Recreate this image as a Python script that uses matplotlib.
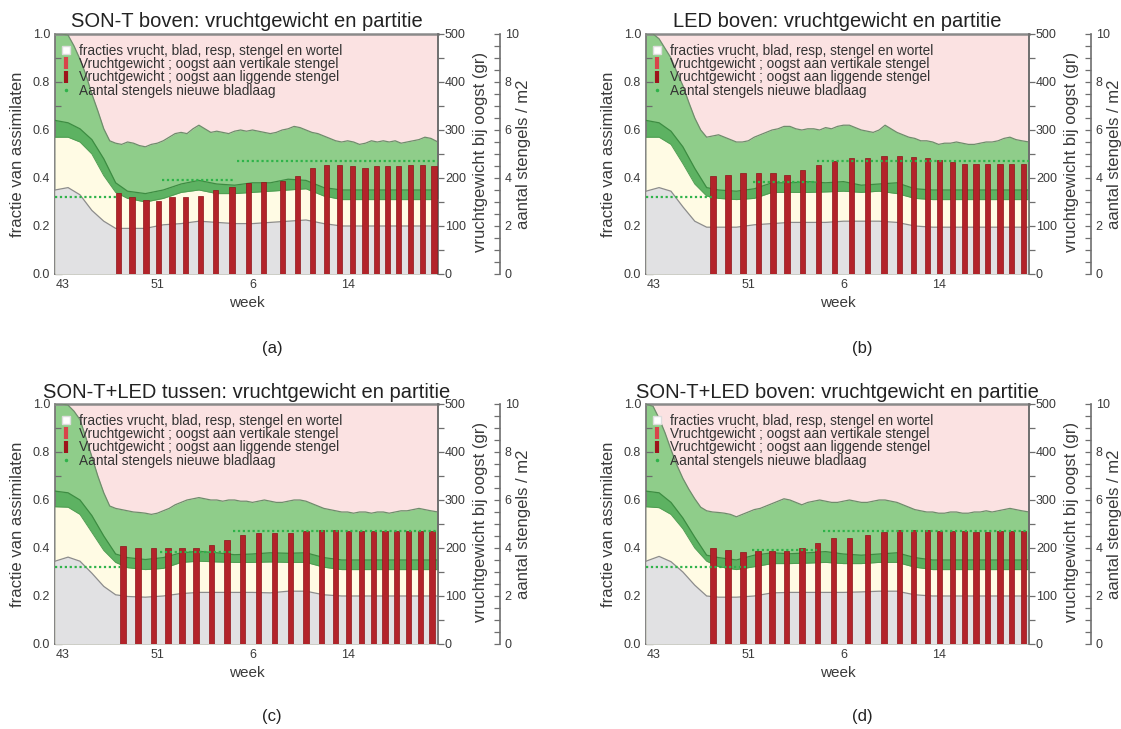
import matplotlib
matplotlib.use("Agg")
import matplotlib.pyplot as plt
from matplotlib.lines import Line2D
from matplotlib.ticker import MultipleLocator, FixedLocator

plt.rcParams['font.family'] = ['Liberation Sans', 'DejaVu Sans']

# ---------------------------------------------------------------------------
# time axis: week index, 0 = week 43 (2015 has 53 weeks)
WEEK_TICKS = [0, 8, 16, 24]
WEEK_LABELS = ['43', '51', '6', '14']
X_MIN, X_MAX = -0.6, 31.6

TITLES = ['SON-T boven: vruchtgewicht en partitie',
          'LED boven: vruchtgewicht en partitie',
          'SON-T+LED tussen: vruchtgewicht en partitie',
          'SON-T+LED boven: vruchtgewicht en partitie']
PANEL_TAGS = ['(a)', '(b)', '(c)', '(d)']

LEGEND_LABELS = ['fracties vrucht, blad, resp, stengel en wortel',
                 'Vruchtgewicht ; oogst aan vertikale stengel',
                 'Vruchtgewicht ; oogst aan liggende stengel',
                 'Aantal stengels nieuwe bladlaag']

# grid for the wiggly upper boundary (stengel+wortel fraction top)
T_TOP = ([-0.6] + [0.5 * i for i in range(63)] + [31.6])
# grid for the smooth lower boundaries
T_SMOOTH = [-0.6, 0.5, 1.5, 2.5, 3.5, 4.5, 5.5, 7, 8.5, 10, 11.5, 13, 14.5,
            16, 17.5, 19, 20.5, 22, 23.5, 25, 26.5, 28, 29.5, 31, 31.6]

# ---------------------------------------------------------------- panel (a)
A_TOP = [1.0, 1.0, 0.995, 0.95, 0.895, 0.83, 0.75, 0.68, 0.605, 0.555,
         0.545, 0.54, 0.55, 0.545, 0.535, 0.53, 0.54, 0.545, 0.555, 0.57,
         0.585, 0.59, 0.585, 0.605, 0.62, 0.605, 0.59, 0.595, 0.59, 0.585,
         0.595, 0.60, 0.595, 0.60, 0.595, 0.59, 0.585, 0.59, 0.60, 0.605,
         0.615, 0.61, 0.60, 0.59, 0.585, 0.575, 0.565, 0.555, 0.55, 0.555,
         0.55, 0.54, 0.545, 0.555, 0.55, 0.555, 0.55, 0.555, 0.545, 0.55,
         0.555, 0.56, 0.57, 0.565, 0.55]
A_DARK = [0.64, 0.63, 0.605, 0.56, 0.48, 0.38, 0.345, 0.335, 0.35, 0.375, 0.39,
          0.375, 0.37, 0.38, 0.38, 0.395, 0.39, 0.36, 0.35, 0.35, 0.35, 0.35,
          0.35, 0.35, 0.35]
A_CREAM = [0.57, 0.57, 0.55, 0.50, 0.41, 0.34, 0.315, 0.30, 0.315, 0.34, 0.35,
           0.335, 0.335, 0.34, 0.345, 0.35, 0.355, 0.325, 0.31, 0.31, 0.31,
           0.31, 0.31, 0.31, 0.315]
A_GRAY = [0.35, 0.36, 0.33, 0.265, 0.22, 0.19, 0.19, 0.19, 0.205, 0.21, 0.22,
          0.215, 0.21, 0.21, 0.215, 0.22, 0.225, 0.21, 0.20, 0.20, 0.20, 0.20,
          0.20, 0.20, 0.20]
A_BAR_T = [4.74, 5.87, 7.05, 8.11, 9.24, 10.36, 11.62, 12.88, 14.29, 15.69,
           16.95, 18.50, 19.76, 21.03, 22.23, 23.35, 24.40, 25.46, 26.44,
           27.34, 28.27, 29.31, 30.29, 31.27]
A_BAR_G = [169, 160, 154, 153, 160, 160, 162, 174, 182, 189, 192, 194, 205,
           221, 228, 228, 226, 221, 224, 224, 226, 228, 228, 225]
A_STEM_START = [-0.6, 8.4, 14.7]
A_STEM_END = [4.6, 14.4, 31.6]
A_STEM_N = [3.2, 3.9, 4.7]

# ---------------------------------------------------------------- panel (b)
B_TOP = [1.0, 1.0, 0.98, 0.94, 0.90, 0.84, 0.785, 0.715, 0.65, 0.60,
         0.57, 0.575, 0.58, 0.57, 0.56, 0.55, 0.55, 0.555, 0.57, 0.58,
         0.59, 0.60, 0.605, 0.615, 0.615, 0.605, 0.60, 0.605, 0.605, 0.60,
         0.61, 0.605, 0.615, 0.62, 0.62, 0.61, 0.60, 0.595, 0.59, 0.60,
         0.62, 0.605, 0.59, 0.58, 0.57, 0.565, 0.555, 0.555, 0.55, 0.54,
         0.545, 0.545, 0.55, 0.545, 0.54, 0.54, 0.545, 0.55, 0.55, 0.555,
         0.565, 0.57, 0.56, 0.555, 0.55]
B_DARK = [0.64, 0.63, 0.595, 0.53, 0.44, 0.36, 0.35, 0.345, 0.355, 0.38, 0.38,
          0.385, 0.38, 0.385, 0.37, 0.375, 0.38, 0.355, 0.35, 0.35, 0.35, 0.35,
          0.35, 0.35, 0.35]
B_CREAM = [0.57, 0.57, 0.54, 0.46, 0.375, 0.325, 0.315, 0.31, 0.315, 0.34,
           0.34, 0.34, 0.342, 0.345, 0.34, 0.345, 0.335, 0.315, 0.31, 0.31,
           0.31, 0.31, 0.31, 0.31, 0.31]
B_GRAY = [0.345, 0.36, 0.345, 0.28, 0.22, 0.195, 0.195, 0.195, 0.205, 0.21,
          0.215, 0.215, 0.215, 0.22, 0.22, 0.22, 0.215, 0.20, 0.195, 0.195,
          0.195, 0.195, 0.195, 0.195, 0.195]
B_BAR_T = [5.03, 6.29, 7.55, 8.87, 10.08, 11.26, 12.57, 13.92, 15.27, 16.66,
           17.99, 19.40, 20.74, 21.87, 23.05, 24.10, 25.15, 26.19, 27.14,
           28.10, 29.16, 30.12, 31.13]
B_BAR_G = [205, 207, 210, 211, 210, 207, 217, 228, 236, 241, 241, 246, 246,
           244, 241, 237, 233, 229, 229, 229, 229, 229, 229]
B_STEM_START = [-0.6, 8.4, 13.8]
B_STEM_END = [5.05, 13.8, 31.6]
B_STEM_N = [3.2, 3.85, 4.7]

# ---------------------------------------------------------------- panel (c)
C_TOP = [1.0, 1.0, 0.995, 0.97, 0.935, 0.86, 0.78, 0.70, 0.63, 0.575,
         0.565, 0.56, 0.555, 0.55, 0.548, 0.545, 0.54, 0.545, 0.555, 0.565,
         0.58, 0.59, 0.60, 0.605, 0.61, 0.605, 0.60, 0.60, 0.595, 0.60,
         0.60, 0.595, 0.595, 0.59, 0.595, 0.60, 0.595, 0.59, 0.59, 0.595,
         0.60, 0.60, 0.595, 0.585, 0.575, 0.565, 0.56, 0.555, 0.55, 0.55,
         0.545, 0.55, 0.55, 0.545, 0.55, 0.55, 0.545, 0.55, 0.555, 0.555,
         0.56, 0.565, 0.56, 0.555, 0.55]
C_DARK = [0.637, 0.63, 0.60, 0.535, 0.45, 0.375, 0.36, 0.352, 0.36, 0.38,
          0.386, 0.38, 0.372, 0.375, 0.38, 0.378, 0.38, 0.36, 0.35, 0.35, 0.35,
          0.35, 0.35, 0.35, 0.35]
C_CREAM = [0.572, 0.57, 0.54, 0.465, 0.39, 0.34, 0.318, 0.31, 0.315, 0.34,
           0.345, 0.342, 0.34, 0.34, 0.342, 0.34, 0.34, 0.32, 0.31, 0.31, 0.31,
           0.31, 0.31, 0.31, 0.31]
C_GRAY = [0.345, 0.362, 0.345, 0.295, 0.24, 0.205, 0.198, 0.195, 0.20, 0.21,
          0.215, 0.215, 0.215, 0.215, 0.213, 0.22, 0.22, 0.205, 0.20, 0.20,
          0.20, 0.20, 0.20, 0.20, 0.20]
C_BAR_T = [5.11, 6.37, 7.69, 8.90, 10.08, 11.26, 12.55, 13.87, 15.18, 16.53,
           17.85, 19.20, 20.50, 21.80, 23.00, 24.10, 25.15, 26.20, 27.15,
           28.10, 29.15, 30.10, 31.10]
C_BAR_G = [204, 200, 199, 200, 200, 200, 207, 216, 228, 232, 232, 232, 235,
           237, 237, 236, 235, 235, 235, 235, 235, 235, 235]
C_STEM_START = [-0.6, 8.25, 14.4]
C_STEM_END = [4.9, 14.4, 31.6]
C_STEM_N = [3.2, 3.85, 4.7]

# ---------------------------------------------------------------- panel (d)
D_TOP = [1.0, 0.99, 0.94, 0.88, 0.81, 0.745, 0.69, 0.645, 0.605, 0.57,
         0.555, 0.55, 0.548, 0.545, 0.54, 0.53, 0.54, 0.55, 0.56, 0.565,
         0.575, 0.585, 0.595, 0.605, 0.60, 0.59, 0.58, 0.59, 0.595, 0.60,
         0.595, 0.59, 0.59, 0.595, 0.60, 0.595, 0.59, 0.59, 0.595, 0.60,
         0.60, 0.595, 0.59, 0.58, 0.57, 0.56, 0.555, 0.55, 0.55, 0.545,
         0.545, 0.55, 0.55, 0.545, 0.545, 0.55, 0.55, 0.555, 0.55, 0.555,
         0.56, 0.565, 0.56, 0.555, 0.55]
D_DARK = [0.637, 0.63, 0.59, 0.525, 0.445, 0.37, 0.36, 0.35, 0.37, 0.38,
          0.376, 0.38, 0.385, 0.375, 0.37, 0.375, 0.38, 0.36, 0.35, 0.35, 0.35,
          0.35, 0.35, 0.35, 0.35]
D_CREAM = [0.572, 0.568, 0.54, 0.48, 0.40, 0.345, 0.322, 0.31, 0.322, 0.335,
           0.335, 0.337, 0.34, 0.335, 0.335, 0.34, 0.34, 0.32, 0.31, 0.31, 0.31,
           0.31, 0.31, 0.31, 0.31]
D_GRAY = [0.345, 0.365, 0.343, 0.30, 0.245, 0.20, 0.195, 0.195, 0.20, 0.213,
          0.215, 0.215, 0.215, 0.215, 0.217, 0.22, 0.22, 0.205, 0.20, 0.20,
          0.20, 0.20, 0.20, 0.20, 0.20]
D_BAR_T = [5.03, 6.29, 7.55, 8.82, 10.00, 11.20, 12.52, 13.84, 15.18, 16.53,
           17.99, 19.40, 20.74, 21.87, 23.05, 24.10, 25.15, 26.19, 27.14,
           28.10, 29.16, 30.12, 31.13]
D_BAR_G = [200, 196, 191, 194, 194, 194, 200, 210, 221, 221, 228, 233, 237,
           237, 237, 235, 235, 235, 233, 233, 235, 235, 235]
D_STEM_START = [-0.6, 8.3, 14.3]
D_STEM_END = [7.9, 13.8, 31.6]
D_STEM_N = [3.2, 3.9, 4.7]

# ---------------------------------------------------------------------------
COL_PINK = '#fbe2e2'
COL_GREEN = '#8fcd8a'
COL_DARK = '#5db262'
COL_CREAM = '#fffbe4'
COL_GRAY = '#e1e1e3'
COL_BAR = '#b3232a'
COL_BAR_V = '#d8444a'
COL_STEM = '#2fb34a'
COL_AXIS = '#6e6e6e'
COL_TEXT = '#3a3a3a'

W, H = 1121, 729
AX_W, AX_H = 383 / W, 240 / H
AX_POS = [(55 / W, 1 - 274 / H), (646 / W, 1 - 274 / H),
          (55 / W, 1 - 644 / H), (646 / W, 1 - 644 / H)]
TAG_POS = [(272 / W, 1 - 348 / H), (862 / W, 1 - 348 / H),
           (272 / W, 1 - 716 / H), (862 / W, 1 - 716 / H)]

panels = [
    (A_TOP, A_DARK, A_CREAM, A_GRAY, A_BAR_T, A_BAR_G, A_STEM_START, A_STEM_END, A_STEM_N),
    (B_TOP, B_DARK, B_CREAM, B_GRAY, B_BAR_T, B_BAR_G, B_STEM_START, B_STEM_END, B_STEM_N),
    (C_TOP, C_DARK, C_CREAM, C_GRAY, C_BAR_T, C_BAR_G, C_STEM_START, C_STEM_END, C_STEM_N),
    (D_TOP, D_DARK, D_CREAM, D_GRAY, D_BAR_T, D_BAR_G, D_STEM_START, D_STEM_END, D_STEM_N),
]

fig = plt.figure(figsize=(W / 100, H / 100), dpi=100)


def draw_panel(k, top, dark, cream, gray, bar_t, bar_g, s0, s1, sn):
    x0, y0 = AX_POS[k]
    ax = fig.add_axes([x0, y0, AX_W, AX_H])
    ax.set_facecolor(COL_PINK)

    # stacked partition fractions, painted from the top layer downwards
    ax.fill_between(T_TOP, 0, top, color=COL_GREEN, lw=0, zorder=1)
    ax.fill_between(T_SMOOTH, 0, dark, color=COL_DARK, lw=0, zorder=2)
    ax.fill_between(T_SMOOTH, 0, cream, color=COL_CREAM, lw=0, zorder=3)
    ax.fill_between(T_SMOOTH, 0, gray, color=COL_GRAY, lw=0, zorder=4)
    ax.plot(T_TOP, top, color='#6f8c6c', lw=0.9, zorder=5)
    ax.plot(T_SMOOTH, dark, color='#3d8c42', lw=0.9, zorder=5)
    ax.plot(T_SMOOTH, cream, color='#4f9d52', lw=0.7, zorder=5)
    ax.plot(T_SMOOTH, gray, color='#8c8c8c', lw=0.9, zorder=5)

    ax.set_xlim(X_MIN, X_MAX)
    ax.set_ylim(0, 1)
    ax.set_xticks(WEEK_TICKS)
    ax.set_xticklabels(WEEK_LABELS)
    ax.xaxis.set_minor_locator(FixedLocator(list(range(0, 32))))
    ax.set_yticks([0, 0.2, 0.4, 0.6, 0.8, 1.0])
    ax.set_yticklabels(['0.0', '0.2', '0.4', '0.6', '0.8', '1.0'])
    ax.yaxis.set_minor_locator(MultipleLocator(0.1))
    ax.tick_params(axis='both', which='both', direction='in', colors=COL_AXIS,
                   labelcolor=COL_TEXT, labelsize=9, width=0.9)
    ax.tick_params(axis='both', which='major', length=5, pad=3.5)
    ax.tick_params(axis='both', which='minor', length=4)
    for side in ('left', 'bottom', 'top', 'right'):
        ax.spines[side].set_color(COL_AXIS)
        ax.spines[side].set_linewidth(1.2)
    ax.spines['top'].set_color('#8a8a8a')
    ax.spines['top'].set_linewidth(1.8)

    ax.text(0.5, 1.05, TITLES[k], transform=ax.transAxes, ha='center',
            va='center', fontsize=14.5, color='#222222')
    ax.text(-0.097, 0.50, 'fractie van assimilaten', transform=ax.transAxes,
            rotation=90, ha='center', va='center', fontsize=12, color=COL_TEXT)
    ax.text(0.5, -0.12, 'week', transform=ax.transAxes, ha='center',
            va='center', fontsize=11, color=COL_TEXT)

    # fruit weight at harvest
    ax2 = ax.twinx()
    ax2.bar(bar_t, bar_g, width=0.44, color=COL_BAR, edgecolor='#8e1318',
            linewidth=0.5, zorder=3)
    ax2.set_ylim(0, 500)
    ax2.set_xlim(X_MIN, X_MAX)
    ax2.set_yticks([0, 100, 200, 300, 400, 500])
    ax2.yaxis.set_minor_locator(MultipleLocator(50))
    ax2.tick_params(axis='y', which='both', direction='out', colors=COL_AXIS,
                    labelcolor=COL_TEXT, labelsize=9, width=0.9, length=4, pad=1)
    for side in ('left', 'bottom', 'top'):
        ax2.spines[side].set_visible(False)
    ax2.spines['right'].set_color(COL_AXIS)
    ax2.spines['right'].set_linewidth(1.2)
    ax.text(1.110, 0.51, 'vruchtgewicht bij oogst (gr)', transform=ax.transAxes,
            rotation=90, ha='center', va='center', fontsize=12, color=COL_TEXT)

    # number of stems in the new leaf layer
    ax3 = ax.twinx()
    ax3.hlines(sn, s0, s1, colors=COL_STEM, linestyles=(0, (1, 1.2)),
               linewidth=1.6, zorder=4)
    ax3.set_ylim(0, 10)
    ax3.set_xlim(X_MIN, X_MAX)
    ax3.spines['right'].set_position(('outward', 44.6))
    for side in ('left', 'bottom', 'top'):
        ax3.spines[side].set_visible(False)
    ax3.spines['right'].set_color(COL_AXIS)
    ax3.spines['right'].set_linewidth(1.2)
    ax3.set_yticks([0, 2, 4, 6, 8, 10])
    ax3.yaxis.set_minor_locator(MultipleLocator(0.5))
    ax3.tick_params(axis='y', which='both', direction='in', colors=COL_AXIS,
                    labelcolor=COL_TEXT, labelsize=9, width=0.9, length=4, pad=3.5)
    ax.text(1.222, 0.50, 'aantal stengels / m2', transform=ax.transAxes,
            rotation=90, ha='center', va='center', fontsize=12, color=COL_TEXT)

    handles = [
        Line2D([], [], ls='none', marker='s', markersize=5.5,
               markerfacecolor='white', markeredgecolor='#dddddd'),
        Line2D([], [], ls='none', marker='|', markersize=9,
               markeredgewidth=3, color=COL_BAR_V),
        Line2D([], [], ls='none', marker='|', markersize=9,
               markeredgewidth=3, color='#9e141b'),
        Line2D([], [], ls='none', marker='.', markersize=3, color=COL_STEM),
    ]
    leg = ax3.legend(handles, LEGEND_LABELS, loc='upper left',
                     bbox_to_anchor=(0.010, 0.958), frameon=False, fontsize=9.8,
                     handlelength=1.0, handletextpad=0.5, labelspacing=-0.06,
                     borderpad=0, borderaxespad=0)
    for t in leg.get_texts():
        t.set_color('#333333')

    fig.text(TAG_POS[k][0], TAG_POS[k][1], PANEL_TAGS[k], ha='center',
             va='center', fontsize=12, color='#222222')


for k, spec in enumerate(panels):
    draw_panel(k, *spec)

fig.savefig('out.png', dpi=100)
